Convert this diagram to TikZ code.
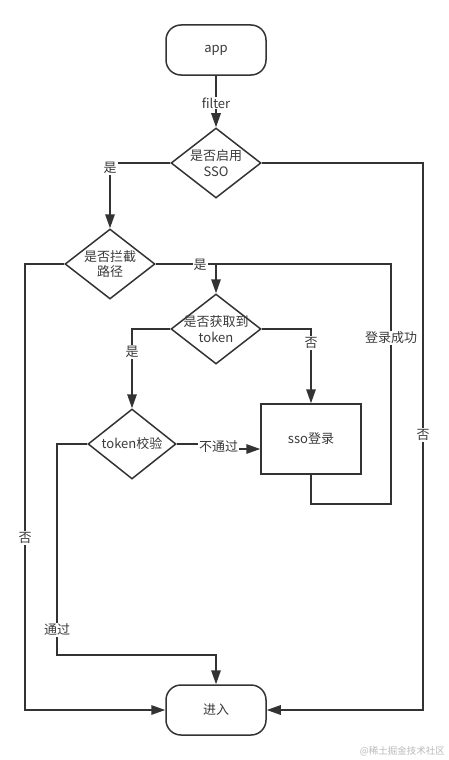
\documentclass[tikz,border=0pt]{standalone}
\usepackage{fontspec}
\setmainfont{Noto Sans CJK SC}
\usetikzlibrary{shapes.geometric,arrows.meta}
\definecolor{ln}{HTML}{333333}
\definecolor{tx}{HTML}{3A3A3A}
\begin{document}
\begin{tikzpicture}[x=1pt,y=-1pt,
  every node/.style={text=tx, font=\fontsize{13}{15.5}\selectfont},
  term/.style={draw=ln, line width=1.5pt, rounded corners=15pt, minimum width=100pt, minimum height=50pt, inner sep=0pt},
  dia/.style={diamond, draw=ln, line width=1.5pt, minimum width=90pt, minimum height=70pt, inner sep=0pt},
  boxn/.style={draw=ln, line width=1.5pt, minimum width=100pt, minimum height=70pt, inner sep=0pt},
  ln/.style={draw=ln, line width=1.5pt},
  arr/.style={ln, -{Triangle[length=14pt,width=9.5pt]}},
  lbl/.style={fill=white, inner sep=1pt, font=\fontsize{13}{15}\selectfont}]
\useasboundingbox (0,0) rectangle (448,760);
% nodes
\node[term] (app) at (216,50) {app};
\node[dia] (d1) at (216,163) {};
\node[align=center, inner sep=0pt] (t1) at (216,163) {是否启用\\SSO};
\node[dia] (d2) at (110,264) {};
\node[align=center, inner sep=0pt] (t2) at (110,264) {是否拦截\\路径};
\node[dia] (d3) at (216,329) {};
\node[align=center, inner sep=0pt] (t3) at (216,329) {是否获取到\\token};
\node[dia, minimum width=88pt] (d4) at (132,444) {};
\node[inner sep=0pt] (t4) at (132,444) {token校验};
\node[boxn] (sso) at (311,439) {sso登录};
\node[term] (in) at (216,710) {进入};
% junction coordinates
\coordinate (j1) at (216,264);
\coordinate (c1) at (423,163);
\coordinate (c2) at (25,264);
\coordinate (c3) at (311,504);
\coordinate (c4) at (391,504);
\coordinate (c5) at (391,264);
\coordinate (c6) at (219,444);
\coordinate (c7) at (219,449);
\coordinate (c8) at (57,444);
\coordinate (c9) at (57,655);
\coordinate (c10) at (216,655);
% connectors
\draw[arr] (app) -- (d1);
\draw[arr] (d1.west) -| (d2.north);
\draw[arr] (d1.east) -- (c1) |- (in.east);
\draw[arr] (d2.west) -- (c2) |- (in.west);
\draw[ln] (d2.east) -- (j1);
\draw[arr] (sso.south) -- (c3) -- (c4) -- (c5) -- (j1) -- (d3.north);
\draw[arr] (d3.west) -| (d4.north);
\draw[arr] (d3.east) -| (sso.north);
\draw[arr] (d4.east) -- (c6) -- (c7) -- (c7 -| sso.west);
\draw[arr] (d4.west) -- (c8) -- (c9) -- (c10) -- (in.north);
% labels
\node[lbl] (lfilter) at (216,103) {filter};
\node[lbl] (lyes1) at (110,168) {是};
\node[lbl] (lyes2) at (200,265) {是};
\node[lbl] (lno1) at (423,435) {否};
\node[lbl] (lno2) at (25,538) {否};
\node[lbl] (lok) at (391,338) {登录成功};
\node[lbl] (lyes3) at (132,352) {是};
\node[lbl] (lno3) at (311,343) {否};
\node[lbl] (lfail) at (218.5,447) {不通过};
\node[lbl] (lpass) at (57,630) {通过};
\node[text=gray!55, font=\fontsize{9.5}{11}\selectfont, anchor=east, inner sep=0pt] (wm) at (445,751) {@稀土掘金技术社区};
\end{tikzpicture}
\end{document}
